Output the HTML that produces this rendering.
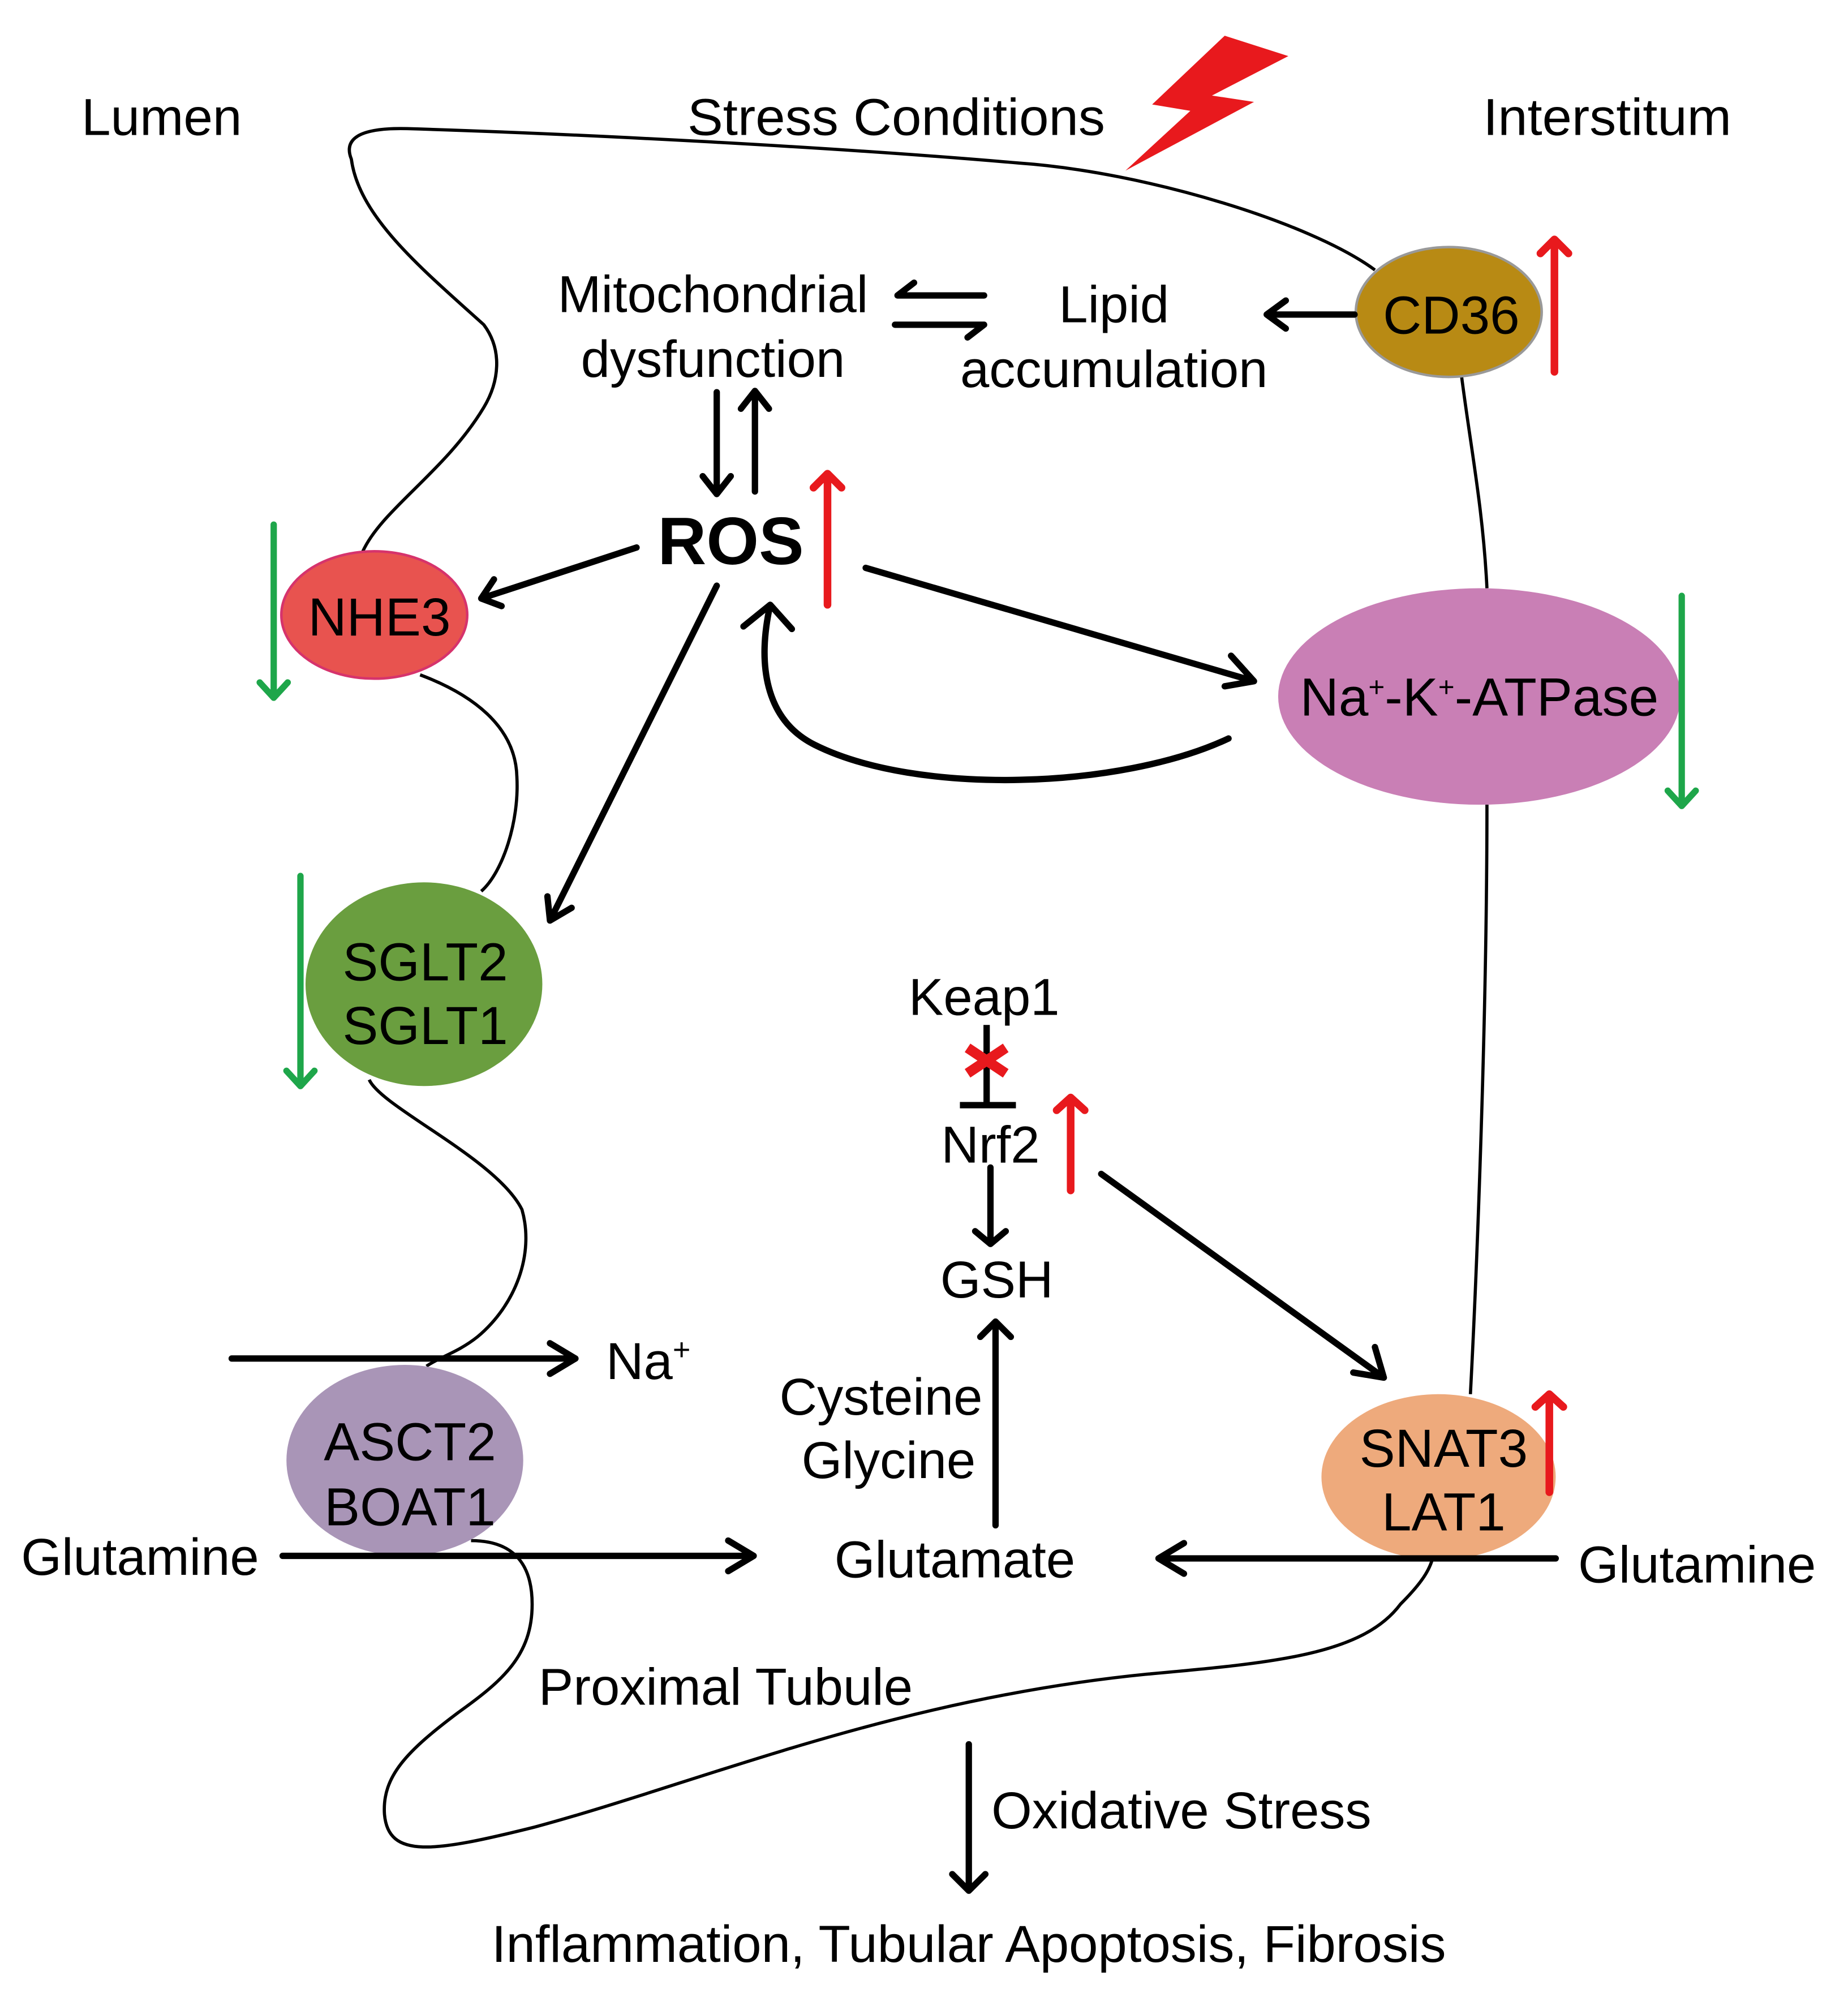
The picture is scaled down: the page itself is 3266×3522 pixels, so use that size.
<!DOCTYPE html>
<html><head><meta charset="utf-8"><style>
html,body{margin:0;padding:0;background:#fff}
svg{display:block}
text{font-family:"Liberation Sans",Arial,sans-serif;fill:#000}
</style></head><body>
<svg width="3266" height="3522" viewBox="0 0 1451.6 1565.3" xmlns="http://www.w3.org/2000/svg">
<rect width="1451.6" height="1565.3" fill="#fff"/>
<!-- membrane -->
<g fill="none" stroke="#000" stroke-width="2.5">
<path d="M1080,212 C1030,175 900,135 800,128 C650,115 450,105 320,101 C280,100 270,110 276,125 C282,170 330,210 380,255 C395,275 392,300 380,320 C350,370 300,400 285,433"/>
<path d="M330,530 C370,545 405,570 406,610 C408,645 395,685 378,700"/>
<path d="M290,848 C300,870 390,910 410,950 C420,985 405,1025 375,1050 C360,1062 345,1066 335,1073"/>
<path d="M370,1210 C400,1210 418,1225 418,1260 C418,1300 395,1320 360,1345 C320,1375 300,1395 302,1425 C305,1460 340,1455 420,1435 C550,1400 700,1335 900,1315 C1000,1306 1070,1300 1100,1260 C1115,1245 1122,1235 1125,1225"/>
<path d="M1155,1095 C1160,1000 1168,800 1168,632"/>
<path d="M1168,462 C1165,400 1155,350 1148,295"/>
</g>
<!-- lightning -->
<polygon points="962,28 1012,44 952,75 985,80 884,134 935,87 905,82" fill="#e8191d"/>
<!-- titles -->
<g font-size="41">
<text x="64" y="106" textLength="126" lengthAdjust="spacingAndGlyphs">Lumen</text>
<text x="540" y="106" textLength="328" lengthAdjust="spacingAndGlyphs">Stress Conditions</text>
<text x="1165" y="106" textLength="195" lengthAdjust="spacingAndGlyphs">Interstitum</text>
</g>
<!-- ellipses -->
<ellipse cx="1138" cy="245" rx="73" ry="51" fill="#b88a14" stroke="#999" stroke-width="2"/>
<ellipse cx="1162" cy="547" rx="158" ry="85" fill="#c97fb5"/>
<ellipse cx="294" cy="483" rx="73" ry="50" fill="#e8534f" stroke="#d6336c" stroke-width="2"/>
<ellipse cx="333" cy="773" rx="93" ry="80" fill="#6a9e3f"/>
<ellipse cx="318" cy="1147" rx="93" ry="75" fill="#a995b7"/>
<ellipse cx="1130" cy="1160" rx="92" ry="65" fill="#eeaa7c"/>
<g font-size="42" text-anchor="middle">
<text x="1140" y="262">CD36</text>
<text x="1162" y="562">Na<tspan font-size="22" dy="-15">+</tspan><tspan dy="15">-K</tspan><tspan font-size="22" dy="-15">+</tspan><tspan dy="15">-ATPase</tspan></text>
<text x="298" y="499">NHE3</text>
<text x="334" y="770">SGLT2</text>
<text x="334" y="820">SGLT1</text>
<text x="322" y="1147">ASCT2</text>
<text x="322" y="1198">BOAT1</text>
<text x="1134" y="1152">SNAT3</text>
<text x="1134" y="1202">LAT1</text>
</g>
<g font-size="41" text-anchor="middle">
<text x="560" y="245">Mitochondrial</text>
<text x="560" y="296">dysfunction</text>
<text x="875" y="253">Lipid</text>
<text x="875" y="304">accumulation</text>
<text x="574" y="443" font-weight="bold" font-size="53">ROS</text>
<text x="773" y="797">Keap1</text>
<text x="778" y="913">Nrf2</text>
<text x="783" y="1019">GSH</text>
<text x="692" y="1111">Cysteine</text>
<text x="698" y="1161">Glycine</text>
<text x="750" y="1239">Glutamate</text>
<text x="110" y="1237">Glutamine</text>
<text x="1333" y="1243">Glutamine</text>
<text x="570" y="1339">Proximal Tubule</text>
<text x="928" y="1436">Oxidative Stress</text>
<text x="761" y="1541">Inflammation, Tubular Apoptosis, Fibrosis</text>
</g>
<text x="476" y="1083" font-size="41">Na<tspan font-size="24" dy="-15">+</tspan></text>
<!-- black arrows -->
<g fill="none" stroke="#000" stroke-width="5" stroke-linecap="round" stroke-linejoin="round">
<path d="M773,232 L705,232 M718,222 L705,232"/>
<path d="M703,255 L773,255 M760,265 L773,255"/>
<path d="M1064,247 L995,247 M1010,236 L995,247 L1010,258"/>
<path d="M563,308 L563,388 M552,374 L563,388 L574,374"/>
<path d="M593,386 L593,307 M582,321 L593,307 L604,321"/>
<path d="M500,430 L378,470 M388,455 L378,470 L394,476"/>
<path d="M563,460 L432,723 M430,704 L432,723 L449,713"/>
<path d="M680,446 L985,535 M967,515 L985,535 L962,539"/>
<path d="M965,580 C880,620 720,625 640,585 C600,565 595,520 605,475 M584,492 L605,475 L622,494"/>
<path d="M775,805 L775,868" stroke-linecap="butt"/>
<path d="M754,868 L798,868" stroke-linecap="butt"/>
<path d="M778,917 L778,977 M766,967 L778,977 L790,967"/>
<path d="M865,922 L1087,1082 M1063,1078 L1087,1082 L1080,1058"/>
<path d="M782,1198 L782,1038 M770,1050 L782,1038 L794,1050"/>
<path d="M182,1067 L452,1067 M432,1055 L452,1067 L432,1079"/>
<path d="M222,1222 L592,1222 M572,1210 L592,1222 L572,1234"/>
<path d="M1222,1224 L910,1224 M930,1212 L910,1224 L930,1236"/>
<path d="M761,1370 L761,1485 M748,1472 L761,1485 L774,1472"/>
</g>
<g stroke="#e8191d" stroke-width="8">
<path d="M760,823 L790,843 M760,843 L790,823"/>
</g>
<g fill="none" stroke="#e8191d" stroke-width="6" stroke-linecap="round" stroke-linejoin="round">
<path d="M1221,292 L1221,188 M1210,199 L1221,188 L1232,199"/>
<path d="M650,475 L650,372 M639,383 L650,372 L661,383"/>
<path d="M841,935 L841,862 M830,872 L841,862 L852,872"/>
<path d="M1217,1172 L1217,1095 M1206,1105 L1217,1095 L1228,1105"/>
</g>
<g fill="none" stroke="#1ea64a" stroke-width="5" stroke-linecap="round" stroke-linejoin="round">
<path d="M215,412 L215,548 M204,536 L215,548 L226,536"/>
<path d="M236,688 L236,853 M225,841 L236,853 L247,841"/>
<path d="M1321,468 L1321,633 M1310,621 L1321,633 L1332,621"/>
</g>
</svg>
</body></html>
